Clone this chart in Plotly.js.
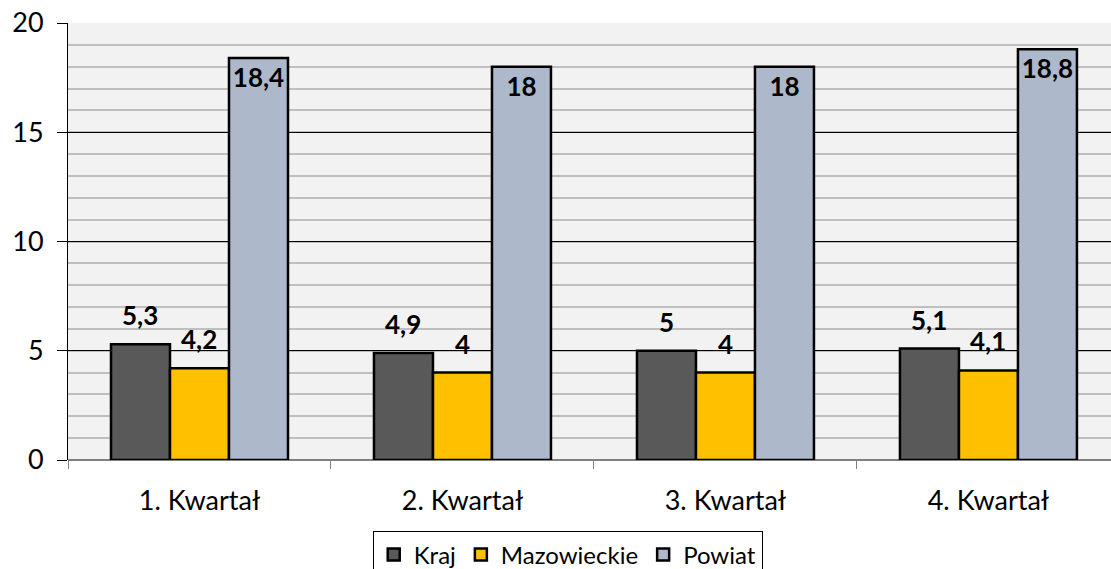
<!DOCTYPE html>
<html>
<head>
<meta charset="utf-8">
<script src="https://cdn.plot.ly/plotly-3.0.1.min.js"></script>
<style>
html,body{margin:0;padding:0;background:#fff;overflow:hidden;}
#chart{width:1111px;height:569px;}
</style>
</head>
<body>
<div id="chart"></div>
<script>
const categories = ['1. Kwartał', '2. Kwartał', '3. Kwartał', '4. Kwartał'];
const seriesNames = ['Kraj', 'Mazowieckie', 'Powiat'];
const kraj = [5.3, 4.9, 5, 5.1];
const mazowieckie = [4.2, 4, 4, 4.1];
const powiat = [18.4, 18, 18, 18.8];
const yTicks = [0, 5, 10, 15, 20];

const fmt = v => String(v).replace('.', ',');
const FONT = 'Lato, "Open Sans", sans-serif';
const colors = ['#595959', '#FFC000', '#ADB9CA'];
const seriesVals = [kraj, mazowieckie, powiat];

const traces = seriesVals.map((vals, i) => ({
  type: 'bar',
  name: seriesNames[i],
  x: categories,
  y: vals,
  marker: {color: colors[i], line: {color: '#000000', width: 2.5}},
  text: i === 2 ? vals.map(fmt) : undefined,
  textposition: i === 2 ? 'inside' : 'none',
  insidetextanchor: 'end',
  textangle: 0,
  insidetextfont: {family: FONT, size: 26, color: '#000000', weight: 'bold'},
  hoverinfo: 'skip'
}));

// Labels above Kraj and Mazowieckie bars
const barOffsetPx = [-59, 0];
const annotations = [];
[kraj, mazowieckie].forEach((vals, s) => {
  vals.forEach((v, j) => {
    annotations.push({
      x: categories[j], y: v, xref: 'x', yref: 'y',
      text: '<b>' + fmt(v) + '</b>',
      showarrow: false, yanchor: 'bottom', xanchor: 'center',
      xshift: barOffsetPx[s], yshift: 11,
      font: {family: FONT, size: 26, color: '#000000'}
    });
  });
});

const layout = {
  width: 1111, height: 569,
  margin: {l: 68, r: 0, t: 23, b: 109, autoexpand: false},
  paper_bgcolor: '#ffffff',
  plot_bgcolor: '#F2F2F2',
  barmode: 'group',
  bargap: 0.327,
  bargroupgap: 0,
  showlegend: true,
  legend: {
    orientation: 'h', x: 0.511, xanchor: 'center', y: 0.066, yanchor: 'top',
    xref: 'container', yref: 'container',
    bordercolor: '#000000', borderwidth: 1, bgcolor: '#ffffff',
    font: {family: FONT, size: 24, color: '#000000'},
    itemwidth: 30, traceorder: 'normal'
  },
  xaxis: {
    type: 'category',
    range: [-0.5, 3.466],
    tickson: 'boundaries',
    ticks: 'outside', ticklen: 8, tickcolor: '#808080', tickwidth: 1,
    showline: false, showgrid: false, zeroline: false,
    tickfont: {family: FONT, size: 27, color: '#000000'},
    ticklabelstandoff: 22,
    automargin: false,
    fixedrange: true
  },
  yaxis: {
    range: [0, 20],
    tickvals: yTicks,
    ticktext: yTicks.map(String),
    ticks: 'outside', ticklen: 10, tickcolor: '#000000', tickwidth: 1,
    showline: true, linecolor: '#000000', linewidth: 1,
    showgrid: true, gridcolor: '#000000', gridwidth: 1,
    zeroline: true, zerolinecolor: '#808080', zerolinewidth: 2,
    minor: {dtick: 1, showgrid: true, gridcolor: '#BFBFBF', gridwidth: 2},
    tickfont: {family: FONT, size: 27, color: '#000000'},
    ticklabelstandoff: 8,
    automargin: false,
    fixedrange: true
  },
  annotations: annotations
};

Plotly.newPlot('chart', traces, layout, {displayModeBar: false, staticPlot: true});
</script>
</body>
</html>
